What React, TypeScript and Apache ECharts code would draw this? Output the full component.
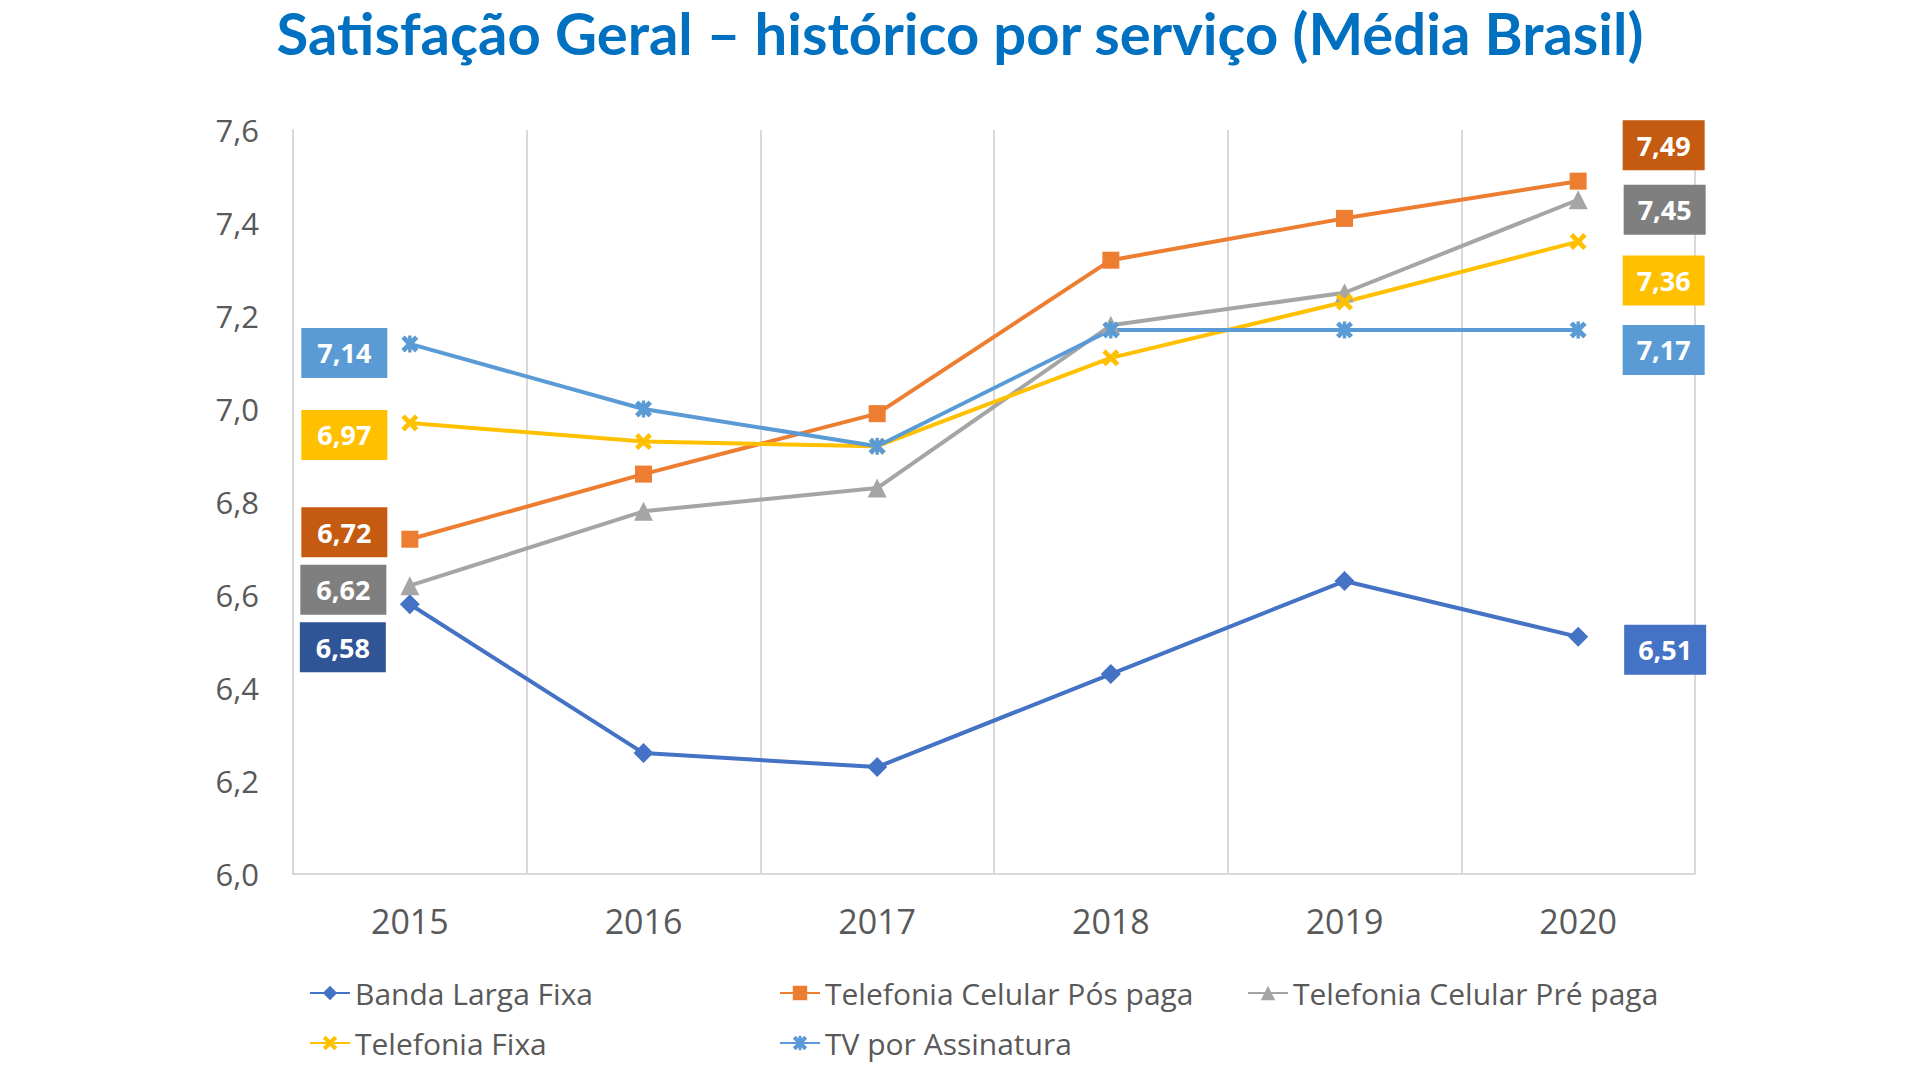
import React, { useEffect, useRef } from "react";
import * as echarts from "echarts";

const years = ["2015", "2016", "2017", "2018", "2019", "2020"];
const yTicks = { min: 6.0, max: 7.6, step: 0.2 };

const seriesNames = [
  "Banda Larga Fixa",
  "Telefonia Celular Pós paga",
  "Telefonia Celular Pré paga",
  "Telefonia Fixa",
  "TV por Assinatura",
];

const bandaLarga = [6.58, 6.26, 6.23, 6.43, 6.63, 6.51];
const celularPos = [6.72, 6.86, 6.99, 7.32, 7.41, 7.49];
const celularPre = [6.62, 6.78, 6.83, 7.18, 7.25, 7.45];
const telefoniaFixa = [6.97, 6.93, 6.92, 7.11, 7.23, 7.36];
const tvAssinatura = [7.14, 7.0, 6.92, 7.17, 7.17, 7.17];

const lineColors = ["#4472C4", "#ED7D31", "#A5A5A5", "#FFC000", "#5B9BD5"];
const leftBoxColors = ["#2F5597", "#C55A11", "#7F7F7F", "#FFC000", "#5B9BD5"];
const rightBoxColors = ["#4472C4", "#C55A11", "#7F7F7F", "#FFC000", "#5B9BD5"];
// vertical offsets of the end labels (dodging)
const leftOffsets = [43, -7, 4, 12, 9];
const rightOffsets = [13, -36, 10, 39, 20];

const X_PATH =
  "path://M0,2 L2,0 L5,3 L8,0 L10,2 L7,5 L10,8 L8,10 L5,7 L2,10 L0,8 L3,5 Z";
const STAR_PATH =
  "path://M0,2 L2,0 L5,3 L8,0 L10,2 L7,5 L10,8 L8,10 L5,7 L2,10 L0,8 L3,5 Z M4,0 L6,0 L6,10 L4,10 Z";
const symbols = ["diamond", "rect", "triangle", X_PATH, STAR_PATH];
const symbolSizes = [20, 17, 19, 17, 17];

const legendPos = [
  { left: 309, top: 976 },
  { left: 779, top: 976 },
  { left: 1247, top: 976 },
  { left: 309, top: 1026 },
  { left: 779, top: 1026 },
];

const FONT = "Open Sans";
const fmt = (v: number, d: number) => v.toFixed(d).replace(".", ",");

export default function App() {
  const ref = useRef<HTMLDivElement>(null);
  useEffect(() => {
    if (!ref.current) return;
    const chart = echarts.init(ref.current, null, { renderer: "svg" });
    const all = [bandaLarga, celularPos, celularPre, telefoniaFixa, tvAssinatura];
    const series = all.map((vals, si) => ({
      name: seriesNames[si],
      type: "line",
      symbol: symbols[si],
      symbolSize: symbolSizes[si],
      lineStyle: { width: 4, color: lineColors[si] },
      itemStyle: { color: lineColors[si] },
      data: vals.map((v, i) => {
        const isFirst = i === 0;
        const isLast = i === vals.length - 1;
        if (!isFirst && !isLast) return { value: v, label: { show: false } };
        const w = isFirst ? 86 : 82;
        return {
          value: v,
          label: {
            show: true,
            position: isFirst ? "left" : "right",
            distance: isFirst ? 57 : 77,
            offset: [0, isFirst ? leftOffsets[si] : rightOffsets[si]],
            formatter: (p: any) => fmt(p.value, 2),
            backgroundColor: isFirst ? leftBoxColors[si] : rightBoxColors[si],
            color: "#FFFFFF",
            fontFamily: FONT,
            fontWeight: "bold",
            fontSize: 27,
            width: w,
            height: 50,
            lineHeight: 50,
            align: "center",
            verticalAlign: "middle",
          },
        };
      }),
    }));

    const legends = seriesNames.map((n, i) => ({
      data: [n],
      orient: "horizontal",
      left: legendPos[i].left,
      top: legendPos[i].top,
      padding: 0,
      itemWidth: 40,
      itemHeight: 18,
      itemGap: 0,
      textStyle: {
        fontFamily: FONT,
        fontSize: 30,
        color: "#595959",
        lineHeight: 34,
      },
    }));

    chart.setOption({
      animation: false,
      backgroundColor: "#FFFFFF",
      title: {
        text: "Satisfação Geral – histórico por serviço (Média Brasil)",
        left: "center",
        top: 2,
        padding: 0,
        textStyle: {
          fontFamily: "Lato",
          fontWeight: "bold",
          fontSize: 58,
          lineHeight: 60,
          color: "#0070C0",
        },
      },
      legend: legends,
      grid: {
        left: 293,
        right: 225,
        top: 130,
        bottom: 206,
        outerBoundsMode: "none",
      },
      xAxis: {
        type: "category",
        data: years,
        boundaryGap: true,
        axisLine: { show: true, lineStyle: { color: "#D9D9D9", width: 2 } },
        axisTick: { show: false },
        splitLine: { show: true, lineStyle: { color: "#D9D9D9", width: 2 } },
        axisLabel: {
          fontFamily: FONT,
          fontSize: 34,
          color: "#595959",
          margin: 30,
        },
      },
      yAxis: {
        type: "value",
        min: yTicks.min,
        max: yTicks.max,
        interval: yTicks.step,
        axisLine: { show: true, lineStyle: { color: "#D9D9D9", width: 2 } },
        axisTick: { show: false },
        splitLine: { show: false },
        axisLabel: {
          fontFamily: FONT,
          fontSize: 31,
          color: "#595959",
          margin: 34,
          formatter: (v: number) => fmt(v, 1),
        },
      },
      series,
    });
    return () => chart.dispose();
  }, []);
  return (
    <div
      ref={ref}
      style={{ position: "fixed", left: 0, top: 0, width: 1920, height: 1080 }}
    />
  );
}
